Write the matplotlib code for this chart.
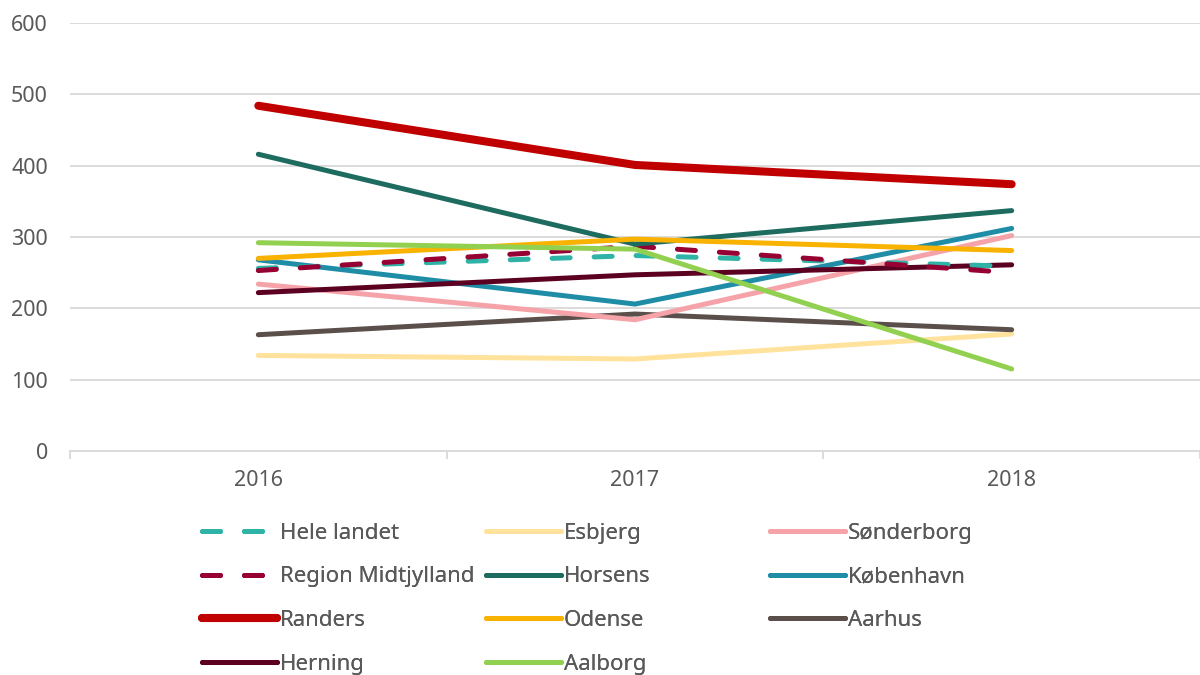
import matplotlib.pyplot as plt
import numpy as np

years = ["2016", "2017", "2018"]

hele_landet = [256, 274, 259]
region_midtjylland = [253, 287, 250]
randers = [484, 401, 374]
herning = [222, 247, 261]
esbjerg = [134, 129, 164]
horsens = [416, 290, 337]
odense = [270, 297, 281]
aalborg = [292, 283, 115]
sonderborg = [234, 184, 302]
kobenhavn = [268, 206, 312]
aarhus = [163, 192, 170]

# (label, values, colour, width, dashed), grouped by legend column
series = [
    ("Hele landet", hele_landet, "#2FB3A6", 3.6, True),
    ("Region Midtjylland", region_midtjylland, "#960032", 3.6, True),
    ("Randers", randers, "#C00000", 5.8, False),
    ("Herning", herning, "#5C0022", 3.6, False),
    ("Esbjerg", esbjerg, "#FFE29C", 3.6, False),
    ("Horsens", horsens, "#1E6B5F", 3.6, False),
    ("Odense", odense, "#F9B200", 3.6, False),
    ("Aalborg", aalborg, "#92D050", 3.6, False),
    ("Sønderborg", sonderborg, "#F5A3A9", 3.6, False),
    ("København", kobenhavn, "#1F8DA6", 3.6, False),
    ("Aarhus", aarhus, "#5A4F4A", 3.6, False),
]
columns = [4, 4, 3]
# drawing order (bottom to top) roughly as in the source
z_order = ["Esbjerg", "Aarhus", "Sønderborg", "København", "Herning", "Hele landet",
           "Region Midtjylland", "Horsens", "Odense", "Aalborg", "Randers"]

plt.rcParams["font.family"] = ["Noto Sans", "DejaVu Sans"]
fig = plt.figure(figsize=(12, 6.75), dpi=100)
ax = fig.add_axes([70 / 1200, 224 / 675, 1130 / 1200, 428 / 675])

x = np.arange(len(years))
handles = []
for label, vals, col, lw, dashed in series:
    kw = dict(color=col, lw=lw, solid_capstyle="round", dash_capstyle="round",
              zorder=3 + z_order.index(label))
    if dashed:
        kw["dashes"] = (3.6, 4.8)
    (h,) = ax.plot(x, vals, label=label, **kw)
    handles.append(h)

ax.set_ylim(0, 600)
ax.set_xlim(-0.5, 2.47)
ax.set_yticks(range(0, 601, 100))
ax.yaxis.grid(True, color="#D9D9D9", lw=1.3)
ax.set_axisbelow(True)
for s in ("left", "right", "top"):
    ax.spines[s].set_visible(False)
ax.spines["bottom"].set_color("#D9D9D9")
ax.spines["bottom"].set_linewidth(1.3)
ax.tick_params(axis="y", length=0, pad=16, labelsize=15.5, labelcolor="#595959")
ax.set_xticks(x, years)
ax.set_xticks([-0.5, 0.5, 1.5, 2.5], minor=True)
ax.tick_params(axis="x", which="major", length=0, pad=14, labelsize=15.5, labelcolor="#595959")
ax.tick_params(axis="x", which="minor", length=6, color="#D9D9D9", width=1.3)

# three legend blocks at fixed column positions
col_x = [184, 468, 752]
start = 0
for cx, n in zip(col_x, columns):
    leg = fig.legend(handles=handles[start:start + n], loc="upper left",
                     bbox_to_anchor=(cx / 1200, 1 - 505 / 675), frameon=False,
                     fontsize=16, labelcolor="#595959", handlelength=3.4,
                     handletextpad=0.1, labelspacing=1.02, borderpad=0.3)
    fig.add_artist(leg)
    start += n

fig.savefig("out.png", dpi=100)
